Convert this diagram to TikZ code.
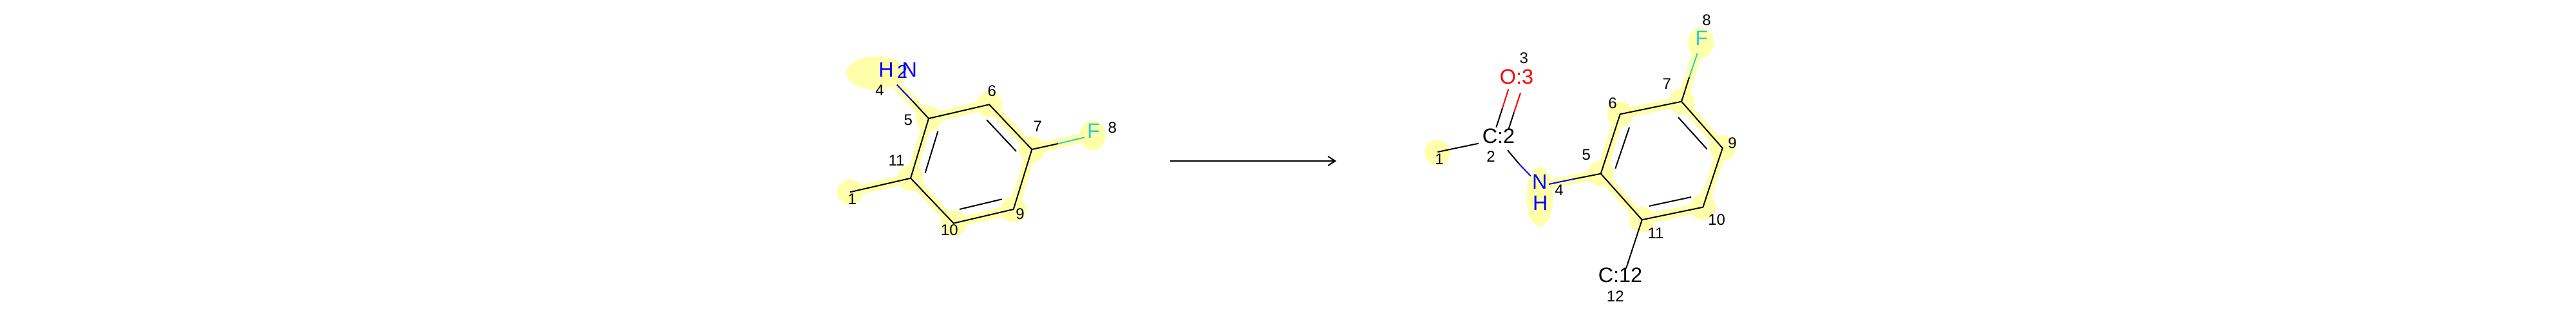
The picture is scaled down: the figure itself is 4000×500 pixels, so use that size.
\documentclass[tikz,border=0pt]{standalone}
\usepackage{fontspec}
\usepackage{xcolor}
\usetikzlibrary{arrows.meta}
\setmainfont{Liberation Sans}
\definecolor{hl-yellow}{HTML}{FFFFAA}
\definecolor{atom-blue}{HTML}{0000FF}
\definecolor{atom-red}{HTML}{FF0000}
\definecolor{atom-teal}{HTML}{33CCCC}

\begin{document}
\begin{tikzpicture}[
    x=0.25pt, y=-0.25pt,
    >={Straight Barb[length=2.75pt,width=3.6pt]},
    atm/.style={inner sep=0pt, font=\fontsize{8.1}{9}\selectfont},
    idx/.style={inner sep=0pt, font=\fontsize{6}{7}\selectfont},
    bnd/.style={line width=0.5pt},
    band/.style={line width=3.75pt, hl-yellow},
    spot/.style={fill=hl-yellow, draw=none},
    arr/.style={->, line width=0.5pt},
  ]
    \useasboundingbox (0,0) rectangle (4000,500);

    % Reactant skeleton
    \coordinate (la1)  at (1320,298.3);
    \coordinate (la4)  at (1392.7,131.7);
    \coordinate (la4m) at (1417.3,157.3);
    \coordinate (la5)  at (1442,184);
    \coordinate (la6)  at (1536,162.3);
    \coordinate (la7)  at (1602.3,232);
    \coordinate (la8)  at (1684.3,213.3);
    \coordinate (la8m) at (1643.3,223);
    \coordinate (la9)  at (1573.7,325);
    \coordinate (la10) at (1480.7,346.7);
    \coordinate (la11) at (1414,276.7);
    \coordinate (li1a) at (1456.3,204);
    \coordinate (li1b) at (1436.7,268.3);
    \coordinate (li2a) at (1532,186);
    \coordinate (li2b) at (1578,235);
    \coordinate (li3a) at (1490,325);
    \coordinate (li3b) at (1555.7,309.3);

    % Reactant highlight
    \fill[spot] (1360.7,113.3) ellipse (46.7 and 26);
    \fill[spot] (1696.7,210.3) ellipse (20 and 23.5);
    \fill[spot] (la1)  circle (20);
    \fill[spot] (la5)  circle (20);
    \fill[spot] (la6)  circle (20);
    \fill[spot] (la7)  circle (20);
    \fill[spot] (la9)  circle (20);
    \fill[spot] (la10) circle (20);
    \fill[spot] (la11) circle (20);
    \draw[band] (la1) -- (la11);
    \draw[band] (la4) -- (la5);
    \draw[band] (la7) -- (la8);
    \draw[band] (la5) -- (la6) -- (la7) -- (la9) -- (la10) -- (la11) -- cycle;

    % Reactant bonds
    \draw[bnd] (la1) -- (la11);
    \draw[bnd] (la5) -- (la4m);
    \draw[bnd, atom-blue] (la4m) -- (la4);
    \draw[bnd] (la7) -- (la8m);
    \draw[bnd, atom-teal] (la8m) -- (la8);
    \draw[bnd] (la5) -- (la6) -- (la7) -- (la9) -- (la10) -- (la11) -- cycle;
    \draw[bnd] (li1a) -- (li1b);
    \draw[bnd] (li2a) -- (li2b);
    \draw[bnd] (li3a) -- (li3b);

    % Reactant atoms
    \node[atm, atom-blue] (lH) at (1376,108.3) {H};
    \node[atm, atom-blue, font=\fontsize{7.2}{8}\selectfont] (lsub) at (1401,111.7) {2};
    \node[atm, atom-blue] (lN) at (1412.3,108.3) {N};
    \node[atm, atom-teal] (lF) at (1698,203.7) {F};

    % Reactant numbers
    \node[idx] (ln1)  at (1323.3,309.3) {1};
    \node[idx] (ln4)  at (1366,140.7) {4};
    \node[idx] (ln5)  at (1410.3,186.7) {5};
    \node[idx] (ln6)  at (1540.3,141.7) {6};
    \node[idx] (ln7)  at (1611.3,196.7) {7};
    \node[idx] (ln8)  at (1727.3,198.7) {8};
    \node[idx] (ln9)  at (1584,332.7) {9};
    \node[idx] (ln10) at (1474.3,357.3) {10};
    \node[idx] (ln11) at (1392,249) {11};

    % Arrow
    \coordinate (arrS) at (1816.7,250);
    \coordinate (arrE) at (2075,250);
    \draw[arr] (arrS) -- (arrE);

    % Product skeleton
    \coordinate (ra1)  at (2232.3,236);
    \coordinate (ra2w) at (2296,222.7);
    \coordinate (ra2s) at (2341,233.3);
    \coordinate (rd1a) at (2323.3,197.7);
    \coordinate (rd1m) at (2333,167.7);
    \coordinate (rd1b) at (2342.3,138.3);
    \coordinate (rd2a) at (2342.7,200);
    \coordinate (rd2m) at (2351,174.3);
    \coordinate (rd2b) at (2361,144.3);
    \coordinate (ra4n) at (2376.7,273.3);
    \coordinate (ra4m) at (2359.3,255);
    \coordinate (ra4e) at (2405,286);
    \coordinate (ra4f) at (2445,277.7);
    \coordinate (ra5)  at (2485.7,269.7);
    \coordinate (ra6)  at (2515.7,177.3);
    \coordinate (ra7)  at (2611,157.7);
    \coordinate (ra8)  at (2635.7,82.7);
    \coordinate (ra8m) at (2623,120);
    \coordinate (ra9)  at (2674.7,230);
    \coordinate (ra10) at (2644.3,321.7);
    \coordinate (ra11) at (2549.7,341.3);
    \coordinate (ra12) at (2525,416.7);
    \coordinate (ri1a) at (2508.3,261.7);
    \coordinate (ri1b) at (2530,197.7);
    \coordinate (ri2a) at (2606,182.3);
    \coordinate (ri2b) at (2650.7,231.7);
    \coordinate (ri3a) at (2560.7,320);
    \coordinate (ri3b) at (2626,306);

    % Product highlight
    \fill[spot] (2232,236.7) circle (20);
    \fill[spot] (2391,305.3) ellipse (20.5 and 46.3);
    \fill[spot] (2641,66.3) ellipse (20 and 23.7);
    \fill[spot] (ra5)  circle (20);
    \fill[spot] (ra6)  circle (20);
    \fill[spot] (ra7)  circle (20);
    \fill[spot] (ra9)  circle (20);
    \fill[spot] (ra10) circle (20);
    \fill[spot] (ra11) circle (20);
    \draw[band] (ra4e) -- (ra5);
    \draw[band] (ra7) -- (ra8);
    \draw[band] (ra5) -- (ra6) -- (ra7) -- (ra9) -- (ra10) -- (ra11) -- cycle;

    % Product bonds
    \draw[bnd] (ra1) -- (ra2w);
    \draw[bnd] (rd1a) -- (rd1m);
    \draw[bnd, atom-red] (rd1m) -- (rd1b);
    \draw[bnd] (rd2a) -- (rd2m);
    \draw[bnd, atom-red] (rd2m) -- (rd2b);
    \draw[bnd] (ra2s) -- (ra4m);
    \draw[bnd, atom-blue] (ra4m) -- (ra4n);
    \draw[bnd, atom-blue] (ra4e) -- (ra4f);
    \draw[bnd] (ra4f) -- (ra5);
    \draw[bnd] (ra7) -- (ra8m);
    \draw[bnd, atom-teal] (ra8m) -- (ra8);
    \draw[bnd] (ra5) -- (ra6) -- (ra7) -- (ra9) -- (ra10) -- (ra11) -- cycle;
    \draw[bnd] (ra11) -- (ra12);
    \draw[bnd] (ri1a) -- (ri1b);
    \draw[bnd] (ri2a) -- (ri2b);
    \draw[bnd] (ri3a) -- (ri3b);

    % Product atoms
    \node[atm] (rC2) at (2327,211) {C:2};
    \node[atm, atom-red] (rO) at (2355,119) {O:3};
    \node[atm, atom-blue] (rN) at (2390.7,282.7) {N};
    \node[atm, atom-blue] (rH) at (2391.7,315) {H};
    \node[atm, atom-teal] (rF) at (2642.3,59.3) {F};
    \node[atm] (rC12) at (2516,427.7) {C:12};

    % Product numbers
    \node[idx] (rn1)  at (2235,247.7) {1};
    \node[idx] (rn2)  at (2315,243.3) {2};
    \node[idx] (rn3)  at (2366.3,90) {3};
    \node[idx] (rn4)  at (2421,295) {4};
    \node[idx] (rn5)  at (2463.3,240.7) {5};
    \node[idx] (rn6)  at (2504,160.7) {6};
    \node[idx] (rn7)  at (2588.3,130) {7};
    \node[idx] (rn8)  at (2650,31) {8};
    \node[idx] (rn9)  at (2690,222) {9};
    \node[idx] (rn10) at (2665.7,341.7) {10};
    \node[idx] (rn11) at (2571,362.3) {11};
    \node[idx] (rn12) at (2508.3,460) {12};
  \end{tikzpicture}
\end{document}
